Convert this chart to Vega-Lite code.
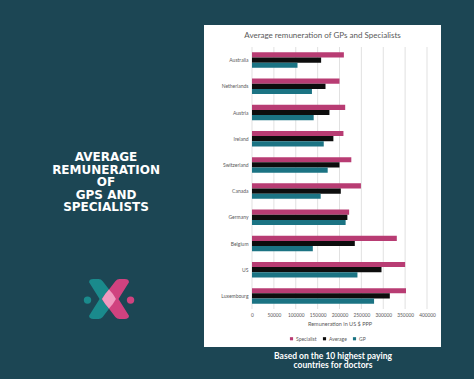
{
  "$schema": "https://vega.github.io/schema/vega-lite/v6.json",
  "width": 175,
  "height": 262,
  "autosize": {"type": "none"},
  "padding": {"left": 252, "top": 47, "right": 47, "bottom": 70},
  "background": "#1c4654",
  "config": {"view": {"stroke": null}, "font": "Lato"},
  "data": {
    "values": [
      {"country": "Australia", "series": "Specialist", "value": 210000},
      {"country": "Australia", "series": "Average", "value": 158000},
      {"country": "Australia", "series": "GP", "value": 104000},
      {"country": "Netherlands", "series": "Specialist", "value": 200000},
      {"country": "Netherlands", "series": "Average", "value": 168000},
      {"country": "Netherlands", "series": "GP", "value": 137000},
      {"country": "Austria", "series": "Specialist", "value": 213000},
      {"country": "Austria", "series": "Average", "value": 177000},
      {"country": "Austria", "series": "GP", "value": 141000},
      {"country": "Ireland", "series": "Specialist", "value": 209000},
      {"country": "Ireland", "series": "Average", "value": 186000},
      {"country": "Ireland", "series": "GP", "value": 164000},
      {"country": "Switzerland", "series": "Specialist", "value": 227000},
      {"country": "Switzerland", "series": "Average", "value": 200000},
      {"country": "Switzerland", "series": "GP", "value": 173000},
      {"country": "Canada", "series": "Specialist", "value": 249000},
      {"country": "Canada", "series": "Average", "value": 203000},
      {"country": "Canada", "series": "GP", "value": 157000},
      {"country": "Germany", "series": "Specialist", "value": 222000},
      {"country": "Germany", "series": "Average", "value": 218000},
      {"country": "Germany", "series": "GP", "value": 214000},
      {"country": "Belgium", "series": "Specialist", "value": 331000},
      {"country": "Belgium", "series": "Average", "value": 235000},
      {"country": "Belgium", "series": "GP", "value": 139000},
      {"country": "US", "series": "Specialist", "value": 350000},
      {"country": "US", "series": "Average", "value": 296000},
      {"country": "US", "series": "GP", "value": 241000},
      {"country": "Luxembourg", "series": "Specialist", "value": 352000},
      {"country": "Luxembourg", "series": "Average", "value": 315000},
      {"country": "Luxembourg", "series": "GP", "value": 279000}
    ]
  },
  "layer": [
    {
      "data": {"values": [{}]},
      "mark": {"type": "rect", "fill": "#ffffff"},
      "encoding": {
        "x": {"datum": -0.2743, "type": "quantitative", "scale": {"domain": [0, 1], "nice": false, "zero": false}, "axis": null},
        "x2": {"datum": 1.08},
        "y": {"datum": 1.084, "type": "quantitative", "scale": {"domain": [0, 1], "nice": false, "zero": false}, "axis": null},
        "y2": {"datum": -0.145}
      }
    },
    {
      "data": {"values": [{"tick": 0}, {"tick": 50000}, {"tick": 100000}, {"tick": 150000}, {"tick": 200000}, {"tick": 250000}, {"tick": 300000}, {"tick": 350000}, {"tick": 400000}]},
      "mark": {"type": "rule", "color": "#d9d9d9", "strokeWidth": 0.8},
      "encoding": {
        "x": {"field": "tick", "type": "quantitative", "scale": {"domain": [0, 400000], "nice": false}, "axis": null}
      }
    },
    {
      "mark": {"type": "bar"},
      "encoding": {
        "y": {
          "field": "country", "type": "nominal",
          "sort": ["Australia", "Netherlands", "Austria", "Ireland", "Switzerland", "Canada", "Germany", "Belgium", "US", "Luxembourg"],
          "scale": {"paddingInner": 0.41, "paddingOuter": 0.205},
          "axis": {"title": null, "ticks": false, "domain": false, "labelFontSize": 5, "labelColor": "#595959", "labelPadding": 4, "zindex": 1}
        },
        "yOffset": {"field": "series", "type": "nominal", "sort": ["Specialist", "Average", "GP"], "scale": {"paddingInner": 0, "paddingOuter": 0}},
        "x": {
          "field": "value", "type": "quantitative",
          "scale": {"domain": [0, 400000], "nice": false},
          "axis": {
            "values": [0, 50000, 100000, 150000, 200000, 250000, 300000, 350000, 400000],
            "format": "d", "grid": false, "ticks": false, "domain": false, "labelOverlap": false, "labelFlush": false,
            "labelFontSize": 4.8, "labelColor": "#595959", "labelPadding": 3.5,
            "title": "Remuneration in US $ PPP", "titleFontSize": 5.5, "titleFontWeight": "normal", "titleColor": "#595959", "titlePadding": 4, "zindex": 1
          }
        },
        "color": {
          "field": "series", "type": "nominal",
          "scale": {"domain": ["Specialist", "Average", "GP"], "range": ["#b83c73", "#0d0d0d", "#1b7383"]},
          "legend": {"orient": "none", "legendX": 37, "legendY": 289, "direction": "horizontal", "title": null, "symbolType": "square", "symbolSize": 10, "labelFontSize": 5, "labelColor": "#595959", "columnPadding": 5, "labelOffset": 2}
        }
      }
    },
    {
      "data": {"values": [{}]},
      "mark": {"type": "text", "fontSize": 8, "font": "Lato", "color": "#595959", "align": "center", "baseline": "middle"},
      "encoding": {
        "x": {"datum": 0.403, "type": "quantitative", "scale": {"domain": [0, 1], "nice": false, "zero": false}, "axis": null},
        "y": {"datum": 1.042, "type": "quantitative", "scale": {"domain": [0, 1], "nice": false, "zero": false}, "axis": null},
        "text": {"value": "Average remuneration of GPs and Specialists"}
      }
    },
    {
      "data": {"values": [{}]},
      "mark": {"type": "text", "fontSize": 12, "font": "DejaVu Sans", "fontWeight": "bold", "color": "#ffffff", "align": "center", "baseline": "middle", "lineHeight": 12.6},
      "encoding": {
        "x": {"datum": -0.834, "type": "quantitative", "scale": {"domain": [0, 1], "nice": false, "zero": false}, "axis": null},
        "y": {"datum": 0.58, "type": "quantitative", "scale": {"domain": [0, 1], "nice": false, "zero": false}, "axis": null},
        "text": {"value": ["AVERAGE", "REMUNERATION", "OF", "GPS AND", "SPECIALISTS"]}
      }
    },
    {
      "data": {"values": [{}]},
      "mark": {"type": "text", "fontSize": 8.5, "font": "Lato", "fontWeight": "bold", "color": "#ffffff", "align": "center", "baseline": "middle", "lineHeight": 9.5},
      "encoding": {
        "x": {"datum": 0.463, "type": "quantitative", "scale": {"domain": [0, 1], "nice": false, "zero": false}, "axis": null},
        "y": {"datum": -0.179, "type": "quantitative", "scale": {"domain": [0, 1], "nice": false, "zero": false}, "axis": null},
        "text": {"value": ["Based on the 10 highest paying", "countries for doctors"]}
      }
    },
    {
      "data": {"values": [{}]},
      "mark": {"type": "point", "filled": true, "opacity": 1, "size": 1764, "color": "#1a8a8c",
        "shape": "M -0.95 -0.8 Q -0.95 -0.95 -0.75 -0.95 L -0.5 -0.95 Q -0.38 -0.95 -0.3 -0.85 L 0.35 0 L -0.3 0.85 Q -0.38 0.95 -0.5 0.95 L -0.75 0.95 Q -0.95 0.95 -0.95 0.8 L -0.45 0 Z"},
      "encoding": {
        "x": {"datum": -0.817, "type": "quantitative", "scale": {"domain": [0, 1], "nice": false, "zero": false}, "axis": null},
        "y": {"datum": 0.038, "type": "quantitative", "scale": {"domain": [0, 1], "nice": false, "zero": false}, "axis": null}
      }
    },
    {
      "data": {"values": [{}]},
      "mark": {"type": "point", "filled": true, "opacity": 1, "size": 1764, "color": "#d0427f",
        "shape": "M 0.95 -0.8 Q 0.95 -0.95 0.75 -0.95 L 0.5 -0.95 Q 0.38 -0.95 0.3 -0.85 L -0.35 0 L 0.3 0.85 Q 0.38 0.95 0.5 0.95 L 0.75 0.95 Q 0.95 0.95 0.95 0.8 L 0.45 0 Z"},
      "encoding": {
        "x": {"datum": -0.817, "type": "quantitative", "scale": {"domain": [0, 1], "nice": false, "zero": false}, "axis": null},
        "y": {"datum": 0.038, "type": "quantitative", "scale": {"domain": [0, 1], "nice": false, "zero": false}, "axis": null}
      }
    },
    {
      "data": {"values": [{}]},
      "mark": {"type": "point", "filled": true, "opacity": 1, "size": 1764, "color": "#f09ac0",
        "shape": "M -0.33 0 Q -0.2 -0.25 0 -0.45 Q 0.2 -0.25 0.33 0 Q 0.2 0.25 0 0.45 Q -0.2 0.25 -0.33 0 Z"},
      "encoding": {
        "x": {"datum": -0.817, "type": "quantitative", "scale": {"domain": [0, 1], "nice": false, "zero": false}, "axis": null},
        "y": {"datum": 0.038, "type": "quantitative", "scale": {"domain": [0, 1], "nice": false, "zero": false}, "axis": null}
      }
    },
    {
      "data": {"values": [{}]},
      "mark": {"type": "point", "filled": true, "opacity": 1, "size": 55, "shape": "circle", "color": "#1a8a8c"},
      "encoding": {
        "x": {"datum": -0.94, "type": "quantitative", "scale": {"domain": [0, 1], "nice": false, "zero": false}, "axis": null},
        "y": {"datum": 0.034, "type": "quantitative", "scale": {"domain": [0, 1], "nice": false, "zero": false}, "axis": null}
      }
    },
    {
      "data": {"values": [{}]},
      "mark": {"type": "point", "filled": true, "opacity": 1, "size": 55, "shape": "circle", "color": "#d0427f"},
      "encoding": {
        "x": {"datum": -0.694, "type": "quantitative", "scale": {"domain": [0, 1], "nice": false, "zero": false}, "axis": null},
        "y": {"datum": 0.034, "type": "quantitative", "scale": {"domain": [0, 1], "nice": false, "zero": false}, "axis": null}
      }
    }
  ],
  "resolve": {"scale": {"x": "independent", "y": "independent"}}
}
